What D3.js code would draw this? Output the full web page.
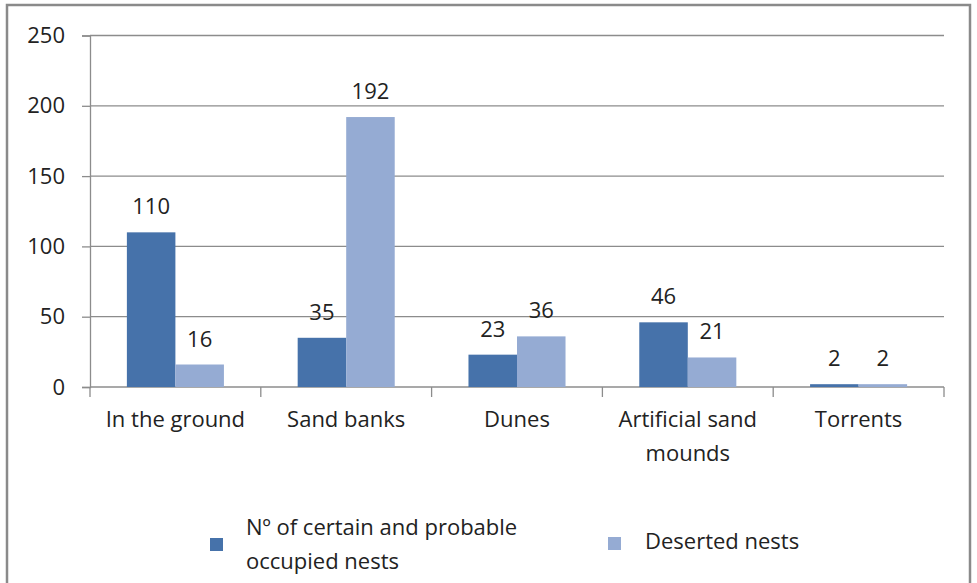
<!DOCTYPE html>
<html>
<head>
<meta charset="utf-8">
<script src="https://cdn.jsdelivr.net/npm/d3@7"></script>
<style>
  body { margin: 0; background: #fff; }
  svg { display: block; }
  text { font-family: "Open Sans", "Noto Sans", sans-serif; fill: #222; }
</style>
</head>
<body>
<svg id="chart" width="977" height="583"></svg>
<script>
const categories = [["In the ground"], ["Sand banks"], ["Dunes"], ["Artificial sand", "mounds"], ["Torrents"]];
const seriesNames = ["Nº of certain and probable occupied nests", "Deserted nests"];
const occupied = [110, 35, 23, 46, 2];
const deserted = [16, 192, 36, 21, 2];
const yTicks = [0, 50, 100, 150, 200, 250];
const colors = ["#4672aa", "#95abd3"];

const svg = d3.select("#chart");

// outer border
svg.append("rect").attr("x", 7).attr("y", 5).attr("width", 963).attr("height", 600)
  .attr("fill", "#fff").attr("stroke", "#8a8a8a").attr("stroke-width", 2.5);

const plot = { left: 90, right: 944, top: 35.5, bottom: 387 };

const y = d3.scaleLinear().domain([0, 250]).range([plot.bottom, plot.top]);
const x0 = d3.scaleBand().domain(d3.range(categories.length)).range([plot.left, plot.right]).padding(0);
const x1 = d3.scaleBand().domain([0, 1]).range([0, x0.bandwidth()]).paddingInner(0).paddingOuter(0.76);

const g = svg.append("g");

// gridlines
g.selectAll("line.grid").data(yTicks.filter(d => d > 0)).join("line")
  .attr("x1", plot.left).attr("x2", plot.right)
  .attr("y1", d => y(d)).attr("y2", d => y(d))
  .attr("stroke", "#8c8c8c").attr("stroke-width", 1.3);

// y axis
const yAxis = d3.axisLeft(y).tickValues(yTicks).tickSize(8).tickPadding(17).tickFormat(d3.format("d"));
const ya = g.append("g").attr("transform", `translate(${plot.left},0)`).call(yAxis);
ya.select(".domain").attr("stroke", "#8c8c8c").attr("stroke-width", 1.3);
ya.selectAll(".tick line").attr("stroke", "#8c8c8c").attr("stroke-width", 1.3);
ya.selectAll(".tick text").attr("font-size", "22px").attr("fill", "#222")
  .style("font-family", '"Open Sans", sans-serif');

// x axis baseline & ticks
g.append("line").attr("x1", plot.left).attr("x2", plot.right)
  .attr("y1", plot.bottom).attr("y2", plot.bottom)
  .attr("stroke", "#8c8c8c").attr("stroke-width", 1.3);
const bounds = d3.range(categories.length + 1).map(i => i < categories.length ? x0(i) : plot.right);
g.selectAll("line.xt").data(bounds).join("line")
  .attr("x1", d => d).attr("x2", d => d)
  .attr("y1", plot.bottom).attr("y2", plot.bottom + 10)
  .attr("stroke", "#8c8c8c").attr("stroke-width", 1.3);

// category labels
categories.forEach((lines, i) => {
  const cx = x0(i) + x0.bandwidth() / 2;
  const t = g.append("text").attr("text-anchor", "middle").attr("font-size", "22px")
    .attr("x", cx).attr("y", 427);
  lines.forEach((ln, j) => {
    t.append("tspan").attr("x", cx).attr("dy", j === 0 ? 0 : 34).text(ln);
  });
});

// bars
const series = [occupied, deserted];
series.forEach((vals, s) => {
  g.selectAll(null).data(vals).join("rect")
    .attr("x", (d, i) => x0(i) + x1(s))
    .attr("width", x1.bandwidth())
    .attr("y", d => y(d))
    .attr("height", d => y(0) - y(d))
    .attr("fill", colors[s]);
  g.selectAll(null).data(vals).join("text")
    .attr("text-anchor", "middle").attr("font-size", "22px")
    .attr("x", (d, i) => x0(i) + x1(s) + x1.bandwidth() / 2)
    .attr("y", d => y(d) - 18)
    .text(d => d);
});

// legend
const leg = svg.append("g");
leg.append("rect").attr("x", 210).attr("y", 538).attr("width", 13).attr("height", 13).attr("fill", colors[0]);
const lt = leg.append("text").attr("font-size", "22px").attr("x", 246).attr("y", 535);
lt.append("tspan").attr("x", 246).attr("dy", 0).text("Nº of certain and probable");
lt.append("tspan").attr("x", 246).attr("dy", 34).text("occupied nests");
leg.append("rect").attr("x", 608).attr("y", 537).attr("width", 13).attr("height", 13).attr("fill", colors[1]);
leg.append("text").attr("font-size", "22px").attr("x", 645).attr("y", 549).text(seriesNames[1]);
</script>
</body>
</html>
